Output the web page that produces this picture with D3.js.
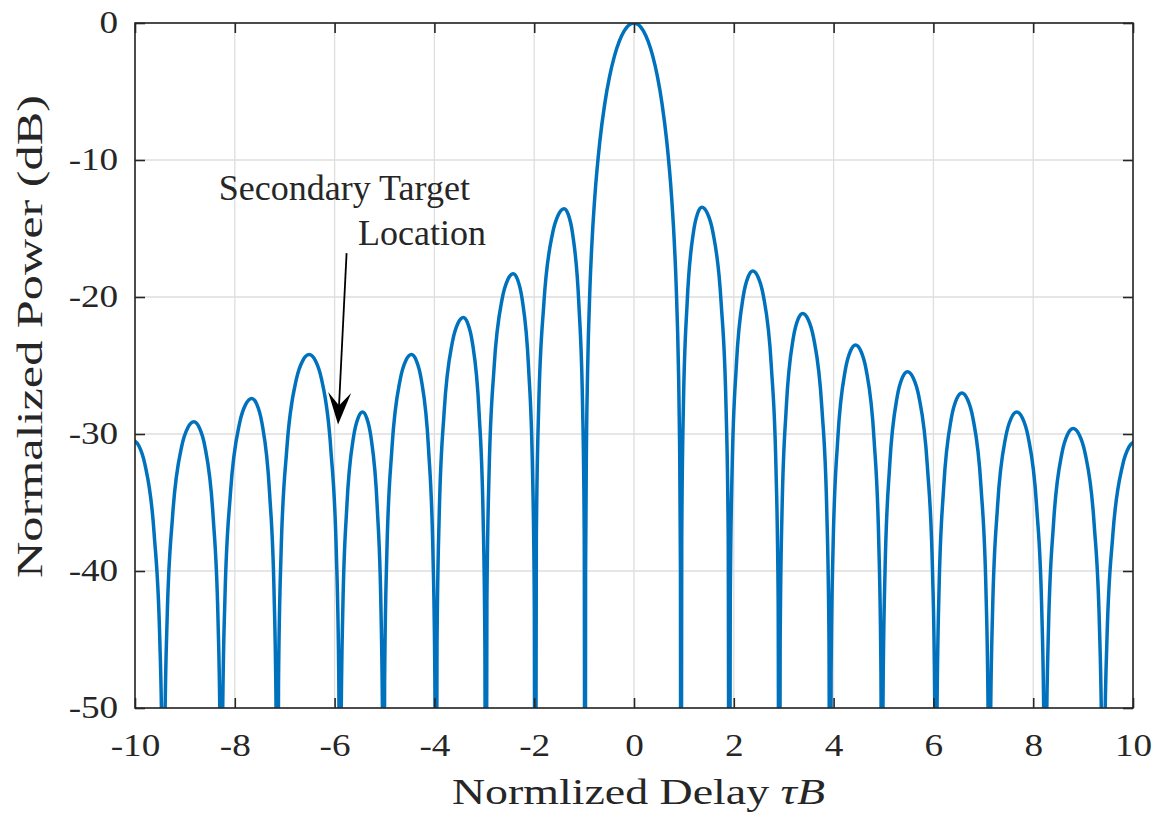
<!DOCTYPE html>
<html>
<head>
<meta charset="utf-8">
<script src="https://cdn.jsdelivr.net/npm/d3@7"></script>
<style>
	body {margin:0; background:#ffffff;}
	svg text {font-family:"Liberation Serif","Times New Roman",serif; fill:#262626;}
</style>
</head>
<body>
<div class="c_chart"></div>
<script>

/*DATA
------------------------------------------------------
*/

const xTicks = [-10, -8, -6, -4, -2, 0, 2, 4, 6, 8, 10];
const yTicks = [0, -10, -20, -30, -40, -50];

// [tau*B, dB], lobe by lobe (nulls go under -50 and are clipped)
const leftLobes = [
	[-10.05,-30.4],[-9.926,-30.84],[-9.802,-32.2],[-9.616,-37.3],[-9.504,-44.9],[-9.455,-54.4],[-9.43,-80],
	[-9.406,-53.1],[-9.357,-43.6],[-9.247,-36.0],[-9.064,-30.9],[-8.942,-29.54],[-8.82,-29.1],[-8.71,-29.54],[-8.60,-30.9],[-8.435,-36.0],[-8.336,-43.6],[-8.292,-53.1],[-8.27,-80],
	[-8.246,-51.4],[-8.197,-41.9],[-8.087,-34.3],[-7.904,-29.2],[-7.782,-27.84],[-7.66,-27.4],[-7.558,-27.84],[-7.456,-29.2],[-7.303,-34.3],[-7.211,-41.9],[-7.170,-51.4],[-7.15,-80],
	[-7.124,-48.2],[-7.073,-38.7],[-6.958,-31.1],[-6.766,-26.0],[-6.638,-24.64],[-6.51,-24.2],[-6.386,-24.64],[-6.262,-26.0],[-6.076,-31.1],[-5.965,-38.7],[-5.915,-48.2],[-5.89,-80],
	[-5.872,-52.4],[-5.836,-42.9],[-5.755,-35.3],[-5.62,-30.2],[-5.53,-28.84],[-5.44,-28.4],[-5.356,-28.84],[-5.272,-30.2],[-5.146,-35.3],[-5.070,-42.9],[-5.037,-52.4],[-5.02,-80],
	[-4.998,-48.2],[-4.953,-38.7],[-4.852,-31.1],[-4.684,-26.0],[-4.572,-24.64],[-4.46,-24.2],[-4.362,-24.64],[-4.264,-26.0],[-4.117,-31.1],[-4.029,-38.7],[-3.990,-48.2],[-3.97,-80],
	[-3.948,-45.5],[-3.904,-36.0],[-3.805,-28.4],[-3.64,-23.3],[-3.53,-21.94],[-3.42,-21.5],[-3.33,-21.94],[-3.24,-23.3],[-3.105,-28.4],[-3.024,-36.0],[-2.988,-45.5],[-2.97,-80],
	[-2.948,-42.3],[-2.904,-32.8],[-2.805,-25.2],[-2.64,-20.1],[-2.53,-18.74],[-2.42,-18.3],[-2.332,-18.74],[-2.244,-20.1],[-2.112,-25.2],[-2.033,-32.8],[-1.998,-42.3],[-1.98,-80],
	[-1.957,-37.55],[-1.910,-28.05],[-1.806,-20.45],[-1.632,-15.35],[-1.516,-13.99],[-1.40,-13.55],[-1.316,-13.99],[-1.232,-15.35],[-1.106,-20.45],[-1.030,-28.05],[-0.997,-37.55],[-0.98,-80]
];

const mainLobe = [
	[-0.970,-39.9],[-0.951,-30.2],[-0.931,-25.6],[-0.882,-19.23],[-0.833,-15.39],[-0.784,-12.62],[-0.686,-8.69],
	[-0.588,-5.94],[-0.49,-3.92],[-0.392,-2.42],[-0.294,-1.33],[-0.196,-0.58],[-0.098,-0.14],[0,0],
	[0.094,-0.14],[0.188,-0.58],[0.282,-1.33],[0.376,-2.42],[0.47,-3.92],[0.564,-5.94],[0.658,-8.69],
	[0.752,-12.62],[0.799,-15.39],[0.846,-19.23],[0.893,-25.6],[0.912,-30.2],[0.931,-39.9],[0.94,-80]
];

const rightLobes = [
	[0.957,-37.45],[0.990,-27.95],[1.066,-20.35],[1.192,-15.25],[1.276,-13.89],[1.36,-13.45],[1.47,-13.89],[1.58,-15.25],[1.745,-20.35],[1.844,-27.95],[1.888,-37.45],[1.91,-80],
	[1.929,-42.1],[1.966,-32.6],[2.051,-25.0],[2.192,-19.9],[2.286,-18.54],[2.38,-18.1],[2.486,-18.54],[2.592,-19.9],[2.751,-25.0],[2.846,-32.6],[2.889,-42.1],[2.91,-80],
	[2.929,-45.2],[2.966,-35.7],[3.051,-28.1],[3.192,-23.0],[3.286,-21.64],[3.38,-21.2],[3.49,-21.64],[3.60,-23.0],[3.765,-28.1],[3.864,-35.7],[3.908,-45.2],[3.93,-80],
	[3.950,-47.5],[3.991,-38.0],[4.083,-30.4],[4.236,-25.3],[4.338,-23.94],[4.44,-23.5],[4.546,-23.94],[4.652,-25.3],[4.811,-30.4],[4.906,-38.0],[4.949,-47.5],[4.97,-80],
	[4.990,-49.45],[5.031,-39.95],[5.123,-32.35],[5.276,-27.25],[5.378,-25.89],[5.48,-25.45],[5.594,-25.89],[5.708,-27.25],[5.879,-32.35],[5.982,-39.95],[6.027,-49.45],[6.05,-80],
	[6.071,-51.0],[6.112,-41.5],[6.206,-33.9],[6.362,-28.8],[6.466,-27.44],[6.57,-27.0],[6.68,-27.44],[6.79,-28.8],[6.955,-33.9],[7.054,-41.5],[7.098,-51.0],[7.12,-80],
	[7.142,-52.4],[7.186,-42.9],[7.285,-35.3],[7.45,-30.2],[7.56,-28.84],[7.67,-28.4],[7.784,-28.84],[7.898,-30.2],[8.069,-35.3],[8.172,-42.9],[8.217,-52.4],[8.24,-80],
	[8.262,-53.6],[8.307,-44.1],[8.408,-36.5],[8.576,-31.4],[8.688,-30.04],[8.80,-29.6],[8.92,-30.04],[9.04,-31.4],[9.22,-36.5],[9.328,-44.1],[9.376,-53.6],[9.40,-80],
	[9.426,-54.5],[9.478,-45.0],[9.595,-37.4],[9.79,-32.3],[9.92,-30.94],[10.05,-30.5]
];

const noteLines = ["Secondary Target", "Location"];
const xLabel = "Normlized Delay ";
const xLabelMath = "\u03C4B";
const yLabel = "Normalized Power (dB)";


/*INITIATE
------------------------------------------------------
*/

const width = 1154;
const height = 814;
const margin = {top:23, right:21, bottom:106, left:135};

const axisColor = "#262626";
const lineColor = "#0072BD";

let svg = d3.select(".c_chart")
	.append("svg")
	.attr("width", width)
	.attr("height", height);

const x = d3.scaleLinear()
	.domain([-10, 10])
	.range([margin.left, width - margin.right]);

const y = d3.scaleLinear()
	.domain([-50, 0])
	.range([height - margin.bottom, margin.top]);


/*GRID
------------------------------------------------------
*/

let grid = svg.append("g").attr("class", "grid");

grid.selectAll("line.gx")
	.data(xTicks)
	.enter()
	.append("line")
	.attr("x1", d => x(d)).attr("x2", d => x(d))
	.attr("y1", y(-50)).attr("y2", y(0))
	.attr("stroke", "#dedede")
	.attr("stroke-width", 1.3);

grid.selectAll("line.gy")
	.data(yTicks)
	.enter()
	.append("line")
	.attr("x1", x(-10)).attr("x2", x(10))
	.attr("y1", d => y(d)).attr("y2", d => y(d))
	.attr("stroke", "#dedede")
	.attr("stroke-width", 1.3);


/*CURVE
------------------------------------------------------
*/

svg.append("clipPath")
	.attr("id", "plotClip")
	.append("rect")
	.attr("x", x(-10)).attr("y", y(0))
	.attr("width", x(10) - x(-10))
	.attr("height", y(-50) - y(0));

const line = d3.line()
	.x(d => x(d[0]))
	.y(d => y(d[1]))
	.curve(d3.curveMonotoneX);

svg.append("path")
	.datum(leftLobes.concat(mainLobe, rightLobes))
	.attr("clip-path", "url(#plotClip)")
	.attr("d", line)
	.attr("fill", "none")
	.attr("stroke", lineColor)
	.attr("stroke-width", 3.5)
	.attr("stroke-linejoin", "round");


/*AXES
------------------------------------------------------
*/

const stretch = 1.2; // tick glyphs in the figure are wider than Times

let gx = svg.append("g")
	.attr("transform", `translate(0,${y(-50)})`)
	.call(d3.axisBottom(x).tickValues(xTicks).tickFormat(d => String(d))
		.tickSizeInner(-10).tickSizeOuter(0).tickPadding(26));

let gxTop = svg.append("g")
	.attr("transform", `translate(0,${y(0)})`)
	.call(d3.axisTop(x).tickValues(xTicks).tickFormat("")
		.tickSizeInner(-10).tickSizeOuter(0));

let gy = svg.append("g")
	.attr("transform", `translate(${x(-10)},0)`)
	.call(d3.axisLeft(y).tickValues(yTicks).tickFormat(d => String(d))
		.tickSizeInner(-10).tickSizeOuter(0).tickPadding(14));

let gyRight = svg.append("g")
	.attr("transform", `translate(${x(10)},0)`)
	.call(d3.axisRight(y).tickValues(yTicks).tickFormat("")
		.tickSizeInner(-10).tickSizeOuter(0));

[gx, gxTop, gy, gyRight].forEach(g => {
	g.select(".domain").remove();
	g.selectAll(".tick line")
		.attr("stroke", axisColor)
		.attr("stroke-width", 1.6);
	g.selectAll(".tick text")
		.attr("font-size", 31)
		.attr("font-family", "Liberation Serif")
		.attr("fill", axisColor)
		.attr("transform", `scale(${stretch},1)`);
});

svg.append("rect")
	.attr("x", x(-10)).attr("y", y(0))
	.attr("width", x(10) - x(-10))
	.attr("height", y(-50) - y(0))
	.attr("fill", "none")
	.attr("stroke", axisColor)
	.attr("stroke-width", 1.6);


/*LABELS
------------------------------------------------------
*/

let xl = svg.append("text")
	.attr("x", 452)
	.attr("y", 804)
	.attr("font-size", 36)
	.attr("textLength", 373)
	.attr("lengthAdjust", "spacingAndGlyphs")
	.text(xLabel);

xl.append("tspan")
	.attr("font-style", "italic")
	.text(xLabelMath);

svg.append("text")
	.attr("transform", "translate(42,578) rotate(-90)")
	.attr("font-size", 36)
	.attr("textLength", 483)
	.attr("lengthAdjust", "spacingAndGlyphs")
	.text(yLabel);


/*ANNOTATION
------------------------------------------------------
*/

const notePos = [[-8.32, -12.92], [-5.53, -16.2]];
const arrowFrom = [-5.76, -16.8];
const arrowTo = [-5.93, -29.3];

svg.selectAll("text.note")
	.data(noteLines)
	.enter()
	.append("text")
	.attr("class", "note")
	.attr("x", (d, i) => x(notePos[i][0]))
	.attr("y", (d, i) => y(notePos[i][1]))
	.attr("font-size", 36)
	.attr("fill", "#000")
	.text(d => d);

const ax0 = x(arrowFrom[0]), ay0 = y(arrowFrom[1]);
const ax1 = x(arrowTo[0]), ay1 = y(arrowTo[1]);
const ang = Math.atan2(ay1 - ay0, ax1 - ax0);

svg.append("line")
	.attr("x1", ax0).attr("y1", ay0)
	.attr("x2", ax1 - 18 * Math.cos(ang)).attr("y2", ay1 - 18 * Math.sin(ang))
	.attr("stroke", "#000")
	.attr("stroke-width", 1.8);

svg.append("path")
	.attr("transform", `translate(${ax1},${ay1}) rotate(${ang * 180 / Math.PI})`)
	.attr("d", "M0,0 L-32,-11.5 L-19,0 L-32,11.5 Z")
	.attr("fill", "#000");

</script>
</body>
</html>
